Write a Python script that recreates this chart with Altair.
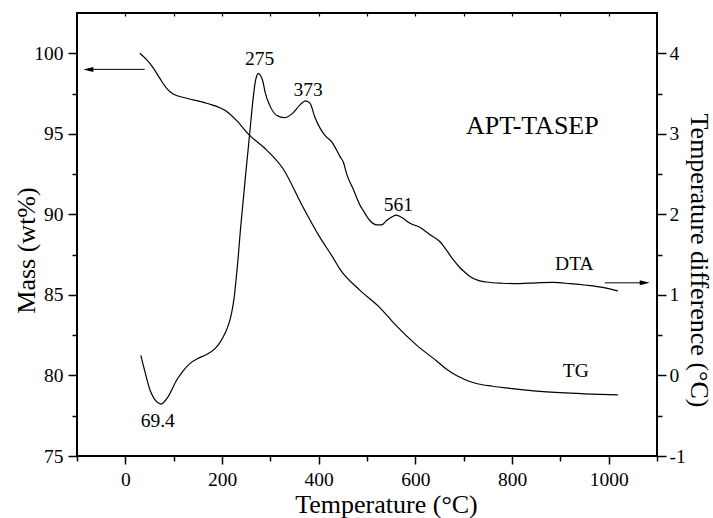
import altair as alt
import pandas as pd

FONT = "Liberation Serif"

# ---- data ----
tg_T = [30, 44, 58, 71, 85, 99, 127, 168, 209, 231, 254, 292, 327, 365, 402, 430, 444,
        485, 527, 554, 602, 644, 664, 685, 726, 760, 795, 899, 1019]
tg_mass = [100.0, 99.6, 99.08, 98.46, 97.84, 97.47, 97.21, 96.9, 96.4, 95.8, 95.0, 94.0,
           92.8, 90.6, 88.6, 87.3, 86.6, 85.3, 84.2, 83.3, 81.9, 80.9, 80.4, 80.0, 79.5,
           79.33, 79.2, 78.93, 78.8]

dta_T = [32, 40, 51, 60, 68, 74, 80, 90, 106, 120,
         134, 150, 168, 185, 196, 206, 214, 220, 225, 229,
         233, 238, 244, 249, 254, 258, 262, 266, 269, 272,
         275, 280, 285, 289, 299, 313, 329, 347, 360, 373,
         382, 392, 402, 413, 427, 437, 444, 451, 458, 471,
         485, 492, 505, 520, 530, 540, 552, 561, 572, 589,
         609, 630, 651, 664, 678, 692, 699, 713, 730, 747,
         780, 816, 850, 885, 920, 954, 990, 1019]
dta_diff = [0.25, 0.06, -0.18, -0.29, -0.34, -0.355, -0.33, -0.25, -0.06, 0.06,
            0.15, 0.21, 0.26, 0.33, 0.41, 0.52, 0.64, 0.78, 0.96, 1.18,
            1.43, 1.8, 2.18, 2.5, 2.8, 3.05, 3.3, 3.52, 3.65, 3.72,
            3.75, 3.72, 3.64, 3.52, 3.35, 3.23, 3.2, 3.26, 3.35, 3.41,
            3.38, 3.21, 3.08, 2.98, 2.9, 2.8, 2.72, 2.65, 2.5, 2.32,
            2.12, 2.05, 1.93, 1.87, 1.87, 1.92, 1.97, 1.99, 1.96, 1.89,
            1.84, 1.75, 1.66, 1.56, 1.44, 1.34, 1.3, 1.23, 1.18, 1.16,
            1.145, 1.14, 1.15, 1.155, 1.14, 1.12, 1.09, 1.05]

note_text = ["275", "373", "561", "69.4", "DTA", "TG"]
note_T = [278, 378, 565, 67, 929, 932]
note_diff = [3.925, 3.55, 2.12, -0.56, 1.38, 0.056]

sample_text = ["APT-TASEP"]
sample_T = [842]
sample_diff = [3.10]

mass_arrow_T = [40, -72]
mass_arrow_mass = [99, 99]
mass_head_T = [-87]
mass_head_mass = [99]

dta_arrow_T = [992, 1072]
dta_arrow_diff = [1.15, 1.15]
dta_head_T = [1085]
dta_head_diff = [1.15]

x_major = [0, 200, 400, 600, 800, 1000]
x_minor = [-100, 100, 300, 500, 700, 900, 1100]
x_top = [0, 100, 200, 300, 400, 500, 600, 700, 800, 900, 1000]
mass_major = [75, 80, 85, 90, 95, 100]
mass_minor = [77.5, 82.5, 87.5, 92.5, 97.5]
diff_major = [-1, 0, 1, 2, 3, 4]
diff_minor = [-0.5, 0.5, 1.5, 2.5, 3.5]

# ---- tables ----
tg_df = pd.DataFrame({"T": tg_T, "mass": tg_mass})
dta_df = pd.DataFrame({"T": dta_T, "diff": dta_diff})
note_df = pd.DataFrame({"T": note_T, "diff": note_diff, "text": note_text})
sample_df = pd.DataFrame({"T": sample_T, "diff": sample_diff, "text": sample_text})
mass_arrow_df = pd.DataFrame({"T": mass_arrow_T, "mass": mass_arrow_mass})
mass_head_df = pd.DataFrame({"T": mass_head_T, "mass": mass_head_mass})
dta_arrow_df = pd.DataFrame({"T": dta_arrow_T, "diff": dta_arrow_diff})
dta_head_df = pd.DataFrame({"T": dta_head_T, "diff": dta_head_diff})

x_scale = alt.Scale(domain=[-100, 1100], nice=False, zero=False)
mass_scale = alt.Scale(domain=[75, 102.5], nice=False, zero=False)
diff_scale = alt.Scale(domain=[-1, 4.5], nice=False, zero=False)

LBL = 19.5
TTL = 26

x_main_axis = alt.Axis(orient="bottom", values=x_major, format="d", tickSize=8, tickWidth=1.5,
                       labelFont=FONT, titleFont=FONT,
                       labelFontSize=LBL, labelPadding=6, title="Temperature (°C)",
                       titleFontSize=TTL, titleX=309, titleY=56, titleBaseline="alphabetic",
                       titleAlign="center", titleFontWeight="normal",
                       domain=False, grid=False)
x_minor_axis = alt.Axis(orient="bottom", values=x_minor, tickSize=5, tickWidth=1.5,
                        labels=False, domain=False, grid=False, title=None)
x_top_axis = alt.Axis(orient="top", values=x_top, tickSize=3, tickWidth=1.2, offset=-3,
                      labels=False, domain=False, grid=False, title=None)

mass_main_axis = alt.Axis(orient="left", values=mass_major, format="d", tickSize=9, tickWidth=1.5,
                          labelFont=FONT, titleFont=FONT,
                          labelFontSize=LBL, labelPadding=5, title="Mass (wt%)",
                          titleFontSize=TTL, titleAngle=270, titleX=-43, titleY=237,
                          titleBaseline="alphabetic", titleAlign="center", titleFontWeight="normal",
                          domain=False, grid=False)
mass_minor_axis = alt.Axis(orient="left", values=mass_minor, tickSize=5, tickWidth=1.5,
                           labels=False, domain=False, grid=False, title=None)

diff_main_axis = alt.Axis(orient="right", values=diff_major, tickSize=9, tickWidth=1.5,
                          labelFont=FONT, titleFont=FONT,
                          labelFontSize=LBL, labelPadding=3,
                          labelExpr="datum.value < 0 ? '-' + abs(datum.value) : '' + datum.value",
                          title="Temperature difference (°C)",
                          titleFontSize=TTL, titleAngle=90, titleX=33, titleY=247,
                          titleBaseline="alphabetic", titleAlign="center", titleFontWeight="normal",
                          domain=False, grid=False)
diff_minor_axis = alt.Axis(orient="right", values=diff_minor, tickSize=5, tickWidth=1.5,
                           labels=False, domain=False, grid=False, title=None)

LINE_W = 1.2

tg_line = alt.Chart(tg_df).mark_line(color="black", strokeWidth=LINE_W, interpolate="monotone").encode(
    x=alt.X("T:Q", scale=x_scale, axis=x_main_axis),
    y=alt.Y("mass:Q", scale=mass_scale, axis=mass_main_axis),
)

mass_shaft = alt.Chart(mass_arrow_df).mark_line(color="black", strokeWidth=1).encode(
    x=alt.X("T:Q", scale=x_scale, axis=x_minor_axis),
    y=alt.Y("mass:Q", scale=mass_scale, axis=mass_minor_axis),
)

mass_head = alt.Chart(mass_head_df).mark_point(
    shape="M 0 0 L 2 -0.5 L 2 0.5 Z", filled=True, size=100, color="black", opacity=1, strokeWidth=0
).encode(
    x=alt.X("T:Q", scale=x_scale, axis=None),
    y=alt.Y("mass:Q", scale=mass_scale, axis=None),
)

dta_line = alt.Chart(dta_df).mark_line(color="black", strokeWidth=LINE_W, interpolate="monotone").encode(
    x=alt.X("T:Q", scale=x_scale, axis=x_top_axis),
    y=alt.Y("diff:Q", scale=diff_scale, axis=diff_main_axis),
)

dta_shaft = alt.Chart(dta_arrow_df).mark_line(color="black", strokeWidth=1).encode(
    x=alt.X("T:Q", scale=x_scale, axis=None),
    y=alt.Y("diff:Q", scale=diff_scale, axis=diff_minor_axis),
)

dta_head = alt.Chart(dta_head_df).mark_point(
    shape="M 0 0 L -2 -0.5 L -2 0.5 Z", filled=True, size=100, color="black", opacity=1, strokeWidth=0
).encode(
    x=alt.X("T:Q", scale=x_scale, axis=None),
    y=alt.Y("diff:Q", scale=diff_scale, axis=None),
)

notes = alt.Chart(note_df).mark_text(
    font=FONT, fontSize=LBL, color="black", align="center", baseline="middle"
).encode(
    x=alt.X("T:Q", scale=x_scale, axis=None),
    y=alt.Y("diff:Q", scale=diff_scale, axis=None),
    text="text:N",
)

sample = alt.Chart(sample_df).mark_text(
    font=FONT, fontSize=TTL, color="black", align="center", baseline="middle"
).encode(
    x=alt.X("T:Q", scale=x_scale, axis=None),
    y=alt.Y("diff:Q", scale=diff_scale, axis=None),
    text="text:N",
)

chart = alt.layer(
    tg_line, mass_shaft, mass_head, dta_line, dta_shaft, dta_head, notes, sample
).resolve_scale(
    y="independent"
).resolve_axis(
    x="independent", y="independent"
).properties(
    width=580, height=443,
    padding={"left": 77, "top": 13, "right": 56, "bottom": 62},
    autosize=alt.AutoSizeParams(type="none"),
    background="white",
).configure_view(
    stroke="black", strokeWidth=2
).configure_axis(
    labelFont=FONT, titleFont=FONT, labelColor="black", tickColor="black",
    titleColor="black", titleFontWeight="normal", grid=False
)

chart.save("out.html", embed_options={"renderer": "svg", "actions": False})
